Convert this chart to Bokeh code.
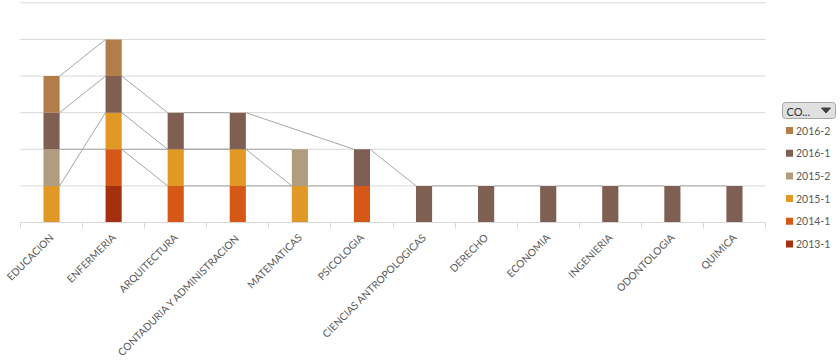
import numpy as np
from bokeh.plotting import figure
from bokeh.models import ColumnDataSource, Range1d, FixedTicker
from bokeh.embed import file_html
from bokeh.resources import INLINE

categories = ["EDUCACION", "ENFERMERIA", "ARQUITECTURA", "CONTADURIA Y ADMINISTRACION",
              "MATEMATICAS", "PSICOLOGIA", "CIENCIAS ANTROPOLOGICAS", "DERECHO",
              "ECONOMIA", "INGENIERIA", "ODONTOLOGIA", "QUIMICA"]
series_names = ["2013-1", "2014-1", "2015-1", "2015-2", "2016-1", "2016-2"]
s2013_1 = [0, 1, 0, 0, 0, 0, 0, 0, 0, 0, 0, 0]
s2014_1 = [0, 1, 1, 1, 0, 1, 0, 0, 0, 0, 0, 0]
s2015_1 = [1, 1, 1, 1, 1, 0, 0, 0, 0, 0, 0, 0]
s2015_2 = [1, 0, 0, 0, 1, 0, 0, 0, 0, 0, 0, 0]
s2016_1 = [1, 1, 1, 1, 0, 1, 1, 1, 1, 1, 1, 1]
s2016_2 = [1, 1, 0, 0, 0, 0, 0, 0, 0, 0, 0, 0]
series_values = [s2013_1, s2014_1, s2015_1, s2015_2, s2016_1, s2016_2]
grid_values = [1, 2, 3, 4, 5, 6]
colors = ["#A5300F", "#D55816", "#E19825", "#B19C7D", "#7F5F52", "#B27D49"]
legend_title = "CO..."

FONT = "Lato"
TXT = "#595959"
n = len(categories)
xs = [i + 0.5 for i in range(n)]
BAR_W = 0.26

# page layout (pixels)
W, H = 840, 361
PL, PR = 20, 765          # plot area left/right
PB, PT = 222, 2.3         # baseline / top gridline
ymax = max(grid_values)
ux = (PR - PL) / n
uy = (PB - PT) / ymax

p = figure(width=W, height=H,
           x_range=Range1d(-PL / ux, (W - PL) / ux),
           y_range=Range1d(-(H - PB) / uy, PB / uy),
           output_backend="svg", toolbar_location=None, min_border=0,
           outline_line_color=None, background_fill_color="white", border_fill_color="white")
p.extra_x_ranges = {"px": Range1d(0, W)}
p.extra_y_ranges = {"px": Range1d(H, 0)}

p.yaxis.visible = False
p.grid.visible = False

# horizontal gridlines across the plot area
p.segment(x0=[0] * len(grid_values), y0=grid_values, x1=[n] * len(grid_values), y1=grid_values,
          line_color="#D9D9D9", line_width=1, level="underlay")

ax = p.xaxis[0]
ax.fixed_location = 0
ax.bounds = (0, n)
ax.ticker = FixedTicker(ticks=xs, minor_ticks=list(range(n + 1)))
ax.major_label_overrides = {x: c for x, c in zip(xs, categories)}
ax.major_label_orientation = np.pi / 4
ax.major_tick_out = 0
ax.major_tick_in = 0
ax.minor_tick_out = 6
ax.minor_tick_in = 0
ax.minor_tick_line_color = "#D9D9D9"
ax.axis_line_color = "#D9D9D9"
ax.major_label_text_font = FONT
ax.major_label_text_font_size = "10.3px"
ax.major_label_text_color = TXT
ax.major_label_standoff = 7

# series lines between consecutive non-blank values of each series
cum = np.cumsum(np.array(series_values, dtype=float), axis=0)
x0s, y0s, x1s, y1s = [], [], [], []
for k, vals in enumerate(series_values):
    idx = [i for i, v in enumerate(vals) if v > 0]
    for a, b in zip(idx[:-1], idx[1:]):
        x0s.append(xs[a] + BAR_W / 2); y0s.append(cum[k][a])
        x1s.append(xs[b] - BAR_W / 2); y1s.append(cum[k][b])
p.segment(x0s, y0s, x1s, y1s, line_color="#A6A6A6", line_width=1)

data = {"x": xs}
for name, vals in zip(series_names, series_values):
    data[name] = vals
source = ColumnDataSource(data)
p.vbar_stack(series_names, x="x", width=BAR_W, fill_color=colors, line_color=None, source=source)

# ---------------- legend (page pixel coordinates) ----------------
PX = dict(x_range_name="px", y_range_name="px")
p.quad(left=[782], right=[835], top=[102], bottom=[118], border_radius=3,
       fill_color="#E0E0E0", line_color="#A6A6A6", line_width=1, **PX)
p.text(x=[786], y=[110.5], text=[legend_title], text_font_size="11px", text_color="#333333",
       text_baseline="middle", text_align="left", text_font={"value": FONT}, **PX)
p.patch([821, 830, 825.5], [107.5, 107.5, 112.5], fill_color="#404040", line_color="#404040", **PX)

names_r = series_names[::-1]
cols_r = colors[::-1]
ly = [130 + 22.7 * i for i in range(len(names_r))]
p.scatter(x=[789] * len(ly), y=ly, marker="square", size=7, fill_color=cols_r, line_color=None, **PX)
p.text(x=[795.5] * len(ly), y=ly, text=names_r, text_font_size="10.5px", text_color=TXT,
       text_baseline="middle", text_align="left", text_font={"value": FONT}, **PX)

open("out.html", "w").write(file_html(p, INLINE))
